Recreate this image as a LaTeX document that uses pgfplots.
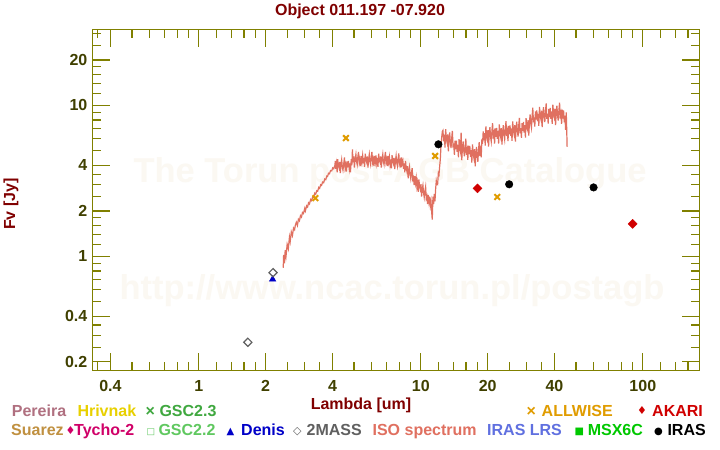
\documentclass[border=0pt]{standalone}
\usepackage{fontspec}
\setmainfont{Liberation Sans}
\newfontfamily\sym{DejaVu Sans}
\usepackage{pgfplots}
\pgfplotsset{compat=1.18}
\definecolor{axolive}{RGB}{128,128,0}
\definecolor{ticktext}{RGB}{64,64,0}
\definecolor{darkred}{RGB}{128,0,0}
\definecolor{wm}{RGB}{251,248,242}
\definecolor{isocol}{RGB}{224,112,96}
\definecolor{wisecol}{RGB}{224,156,0}
\definecolor{akaricol}{RGB}{208,0,0}
\definecolor{denisblue}{RGB}{0,0,200}
\definecolor{grey2}{RGB}{96,96,96}
\definecolor{pereira}{RGB}{176,112,128}
\definecolor{hrivnak}{RGB}{232,208,0}
\definecolor{gsctri}{RGB}{64,168,64}
\definecolor{suarez}{RGB}{192,144,64}
\definecolor{tycho}{RGB}{208,0,104}
\definecolor{gscdue}{RGB}{96,200,96}
\definecolor{iraslrs}{RGB}{96,112,224}
\definecolor{msx}{RGB}{0,200,0}
\newcommand{\lf}{\fontsize{16bp}{19bp}\selectfont\bfseries}
\newcommand{\mf}{\fontsize{11bp}{12bp}\selectfont\sym}
\begin{document}
\begin{tikzpicture}
\useasboundingbox (0bp,0bp) rectangle (720bp,450bp);
\fill[white] (0bp,0bp) rectangle (720bp,450bp);
\node[anchor=base, text=wm, font=\fontsize{34.5bp}{40bp}\selectfont\bfseries, inner sep=0pt] at (390bp,267.4bp) {The Torun post-AGB Catalogue};
\node[anchor=base, text=wm, font=\fontsize{34.5bp}{40bp}\selectfont\bfseries, inner sep=0pt] at (392bp,150bp) {http://www.ncac.torun.pl/postagb};
\begin{axis}[
  at={(92.5bp,79.3bp)}, anchor=south west,
  scale only axis, width=607bp, height=341.4bp,
  xmode=log, ymode=log,
  xmin=0.332, xmax=180, ymin=0.1747, ymax=31.9,
  axis line style={draw=axolive, line width=1.3bp},
  tick style={draw=axolive, line width=1.3bp},
  tick align=inside,
  major tick length=18bp, minor tick length=9bp,
  xtick={0.4,1,2,4,10,20,40,100},
  xticklabels={0.4,1,2,4,10,20,40,100},
  minor xtick={0.35,0.5,0.6,0.7,0.8,0.9,1.2,1.4,1.6,1.8,2.5,3,3.5,5,6,7,8,9,12,14,16,18,25,30,35,50,60,70,80,90,120,140,160},
  ytick={0.2,0.4,1,2,4,10,20},
  yticklabels={0.2,0.4,1,2,4,10,20},
  minor ytick={0.25,0.3,0.35,0.5,0.6,0.7,0.8,0.9,1.2,1.4,1.6,1.8,2.5,3,3.5,5,6,7,8,9,12,14,16,18,25,30},
  tick label style={font=\lf, text=ticktext},
  xticklabel style={anchor=north, inner sep=0pt, yshift=-9.3bp},
  yticklabel style={anchor=east, inner sep=0pt, xshift=-5bp},
]
\addplot[color=isocol, line width=1.2bp, mark=none] coordinates {
(2.40,0.84)(2.41,1.02)(2.43,0.90)(2.45,1.10)(2.47,1.00)(2.50,1.20)(2.53,1.12)(2.56,1.34)(2.58,1.25)(2.61,1.45)(2.64,1.37)(2.67,1.54)(2.70,1.50)(2.72,1.60)(2.75,1.68)(2.78,1.60)(2.81,1.76)(2.84,1.72)(2.87,1.86)(2.90,1.82)(2.93,1.95)(2.96,1.92)(3.00,2.08)(3.02,2.00)(3.06,2.16)(3.09,2.12)(3.12,2.26)(3.15,2.22)(3.19,2.38)(3.22,2.34)(3.26,2.48)(3.29,2.46)(3.33,2.62)(3.36,2.58)(3.40,2.72)(3.43,2.70)(3.47,2.86)(3.50,2.82)(3.54,2.98)(3.57,2.95)(3.61,3.10)(3.65,3.07)(3.69,3.25)(3.73,3.22)(3.77,3.40)(3.80,3.38)(3.84,3.55)(3.88,3.52)(3.92,3.70)(3.97,3.68)(4.01,3.85)(4.05,3.80)(4.10,4.0)
(4.12,4.28)(4.14,3.80)(4.17,4.12)(4.20,3.60)(4.22,4.40)(4.25,4.00)(4.28,3.86)(4.31,4.22)(4.34,3.56)(4.37,4.06)(4.40,4.36)(4.43,3.92)(4.46,3.72)(4.50,4.16)(4.53,4.52)(4.56,3.84)(4.59,4.03)(4.62,3.64)(4.66,4.25)(4.69,3.88)(4.72,4.28)(4.76,3.80)(4.79,4.12)(4.82,3.60)(4.86,4.40)(4.89,4.00)
(4.92,5.10)(4.95,4.20)(4.99,4.59)(5.02,3.87)(5.06,4.41)(5.10,4.74)(5.13,4.26)(5.17,4.05)(5.20,4.52)(5.24,4.92)(5.28,4.18)(5.31,4.38)(5.35,3.96)(5.39,4.62)(5.43,4.22)(5.47,4.65)(5.51,4.13)(5.54,4.48)(5.58,3.92)(5.62,4.79)(5.66,4.35)(5.70,4.20)(5.74,4.59)(5.78,3.87)(5.82,4.41)(5.86,4.74)(5.90,4.26)(5.94,4.05)(5.98,4.52)(6.02,4.92)(6.07,4.18)(6.11,4.38)(6.15,3.96)(6.19,4.62)(6.24,4.22)(6.28,4.65)(6.33,4.13)(6.37,4.48)(6.41,3.92)(6.46,4.79)(6.50,4.35)(6.55,4.20)(6.60,4.59)(6.64,3.87)(6.69,4.41)(6.74,4.74)(6.78,4.26)(6.83,4.05)(6.88,4.52)(6.93,4.92)(6.97,4.18)(7.02,4.38)(7.07,3.96)(7.12,4.62)(7.17,4.22)
(7.22,4.55)(7.27,4.04)(7.32,4.38)(7.37,3.83)(7.42,4.68)(7.48,4.25)(7.53,4.10)(7.58,4.49)(7.63,3.78)(7.69,4.31)(7.74,4.63)(7.79,4.17)(7.85,3.95)(7.90,4.42)(7.96,4.80)(8.01,4.08)(8.07,4.28)(8.13,3.87)(8.18,4.52)(8.24,4.12)(8.30,4.30)(8.36,3.80)(8.41,4.12)(8.47,3.60)
(8.53,4.29)(8.59,3.85)(8.65,3.67)(8.71,3.96)(8.77,3.29)(8.83,3.70)(8.89,3.92)(8.95,3.48)(9.01,3.26)(9.08,3.59)(9.14,3.84)(9.20,3.22)(9.27,3.32)(9.33,2.96)(9.40,3.40)(9.46,3.06)(9.53,3.32)(9.60,2.90)(9.66,3.09)(9.73,2.67)(9.80,3.23)(9.87,2.90)(9.94,2.77)(10.01,3.00)(10.08,2.49)(10.15,2.80)(10.22,2.96)(10.29,2.63)(10.36,2.46)(10.43,2.70)(10.51,2.89)(10.58,2.42)(10.65,2.50)(10.73,2.22)(10.80,2.55)(10.88,2.29)(10.95,2.48)(11.03,2.17)(11.11,2.32)(11.18,2.00)(11.26,1.75)(11.34,2.48)(11.42,2.22)(11.50,2.59)(11.58,2.31)(11.66,2.79)(11.74,3.16)(11.82,2.99)(11.90,2.98)(11.99,3.54)(12.07,3.46)(12.15,3.90)(12.24,4.40)(12.32,5.30)(12.41,6.10)(12.50,6.70)
(12.58,6.82)(12.67,5.77)(12.76,6.40)(12.85,5.25)(12.94,6.96)(13.03,6.00)(13.12,5.70)(13.21,6.43)(13.31,4.96)(13.40,6.02)(13.49,6.61)(13.59,5.63)(13.68,5.22)(13.78,6.10)(13.87,6.78)(13.97,5.36)(14.07,5.45)(14.17,4.70)(14.27,5.83)(14.37,5.14)(14.47,5.83)(14.57,4.93)(14.67,5.46)(14.77,4.52)(14.87,5.98)(14.98,5.20)(15.08,4.94)(15.19,6.60)(15.29,4.33)(15.40,5.25)(15.51,5.76)(15.62,4.95)(15.72,4.59)(15.84,5.35)(15.95,6.01)(16.05,4.70)(16.17,5.05)(16.28,4.35)(16.39,5.40)(16.51,4.75)(16.62,5.39)(16.74,4.56)(16.86,5.04)(16.97,4.17)(17.09,5.52)(17.21,4.80)(17.33,4.51)(17.45,5.13)(17.58,3.95)(17.70,4.79)(17.82,5.31)(17.95,4.56)(18.07,4.23)(18.19,5.04)(18.32,5.71)(18.45,4.61)(18.58,5.05)(18.71,4.52)(18.84,6.00)(18.97,5.57)(19.10,6.71)(19.24,5.86)
(19.37,6.55)(19.51,5.42)(19.64,7.25)(19.77,6.30)(19.91,5.99)(20.05,6.86)(20.19,5.33)(20.33,6.48)(20.47,7.18)(20.62,6.16)(20.76,5.76)(20.91,6.78)(21.05,7.62)(21.20,6.02)(21.35,6.46)(21.49,5.57)(21.65,7.03)(21.80,6.19)(21.95,7.10)(22.10,6.00)(22.26,6.76)(22.41,5.59)(22.57,7.48)(22.73,6.50)(22.88,6.18)(23.04,7.07)(23.20,5.50)(23.36,6.68)(23.53,7.40)(23.69,6.40)(23.86,5.94)(24.03,7.00)(24.19,7.85)(24.36,6.25)(24.53,6.72)(24.70,5.79)(24.87,7.30)(25.05,6.43)(25.22,7.37)(25.40,6.28)(25.58,7.02)(25.75,5.81)(25.93,7.82)(26.12,6.80)(26.30,6.46)(26.48,7.40)(26.67,5.75)(26.85,6.99)(27.04,7.80)(27.23,6.69)(27.42,6.21)(27.61,7.37)(27.80,8.27)(28.00,6.53)(28.19,7.07)(28.39,6.09)(28.59,7.63)(28.78,6.77)(28.99,7.76)(29.19,6.60)(29.39,7.38)(29.60,6.11)(29.80,8.22)(30.01,7.20)
(30.22,6.94)(30.43,7.99)(30.64,6.30)(30.86,7.75)(31.07,8.70)(31.28,7.57)(31.50,7.11)(31.72,8.48)(31.94,9.64)(32.17,7.71)(32.39,8.33)(32.61,7.22)(32.84,9.10)(33.07,8.06)(33.30,9.24)(33.53,7.86)(33.77,8.79)(34.00,7.31)(34.24,9.78)(34.48,8.50)(34.72,8.12)(34.96,9.23)(35.20,7.18)(35.45,8.77)(35.70,9.72)(35.94,8.34)(36.19,7.74)(36.45,9.17)(36.70,10.29)(36.96,8.13)(37.22,8.79)(37.48,7.57)(37.73,9.48)(38.00,8.35)(38.26,9.63)(38.53,8.14)(38.80,9.10)(39.07,7.53)(39.34,10.12)(39.62,8.80)(39.89,8.36)(40.17,9.50)(40.45,7.39)(40.74,8.98)(41.01,9.94)(41.30,8.54)(41.59,7.92)(41.88,9.28)(42.17,10.41)(42.47,8.18)(42.76,8.79)(43.06,7.53)(43.36,9.37)(43.66,8.16)(43.96,9.24)(44.27,7.72)(44.58,8.53)(44.89,6.88)(45.20,8.97)(45.40,7.0)(45.6,5.3)
};
\addplot[only marks, mark=x, mark size=4bp, mark options={draw=wisecol, line width=2bp}] coordinates {(3.35,2.43)(4.6,6.07)(11.6,4.62)(22.1,2.47)};
\addplot[only marks, mark=square*, mark size=3.2bp, mark options={draw=akaricol, fill=akaricol, rotate=45}] coordinates {(18,2.82)(90,1.64)};
\addplot[only marks, mark=*, mark size=3.8bp, mark options={draw=black, fill=black}] coordinates {(12,5.52)(25,3.0)(60,2.86)};
\addplot[only marks, mark=triangle*, mark size=3.8bp, mark options={draw=denisblue, fill=denisblue}] coordinates {(2.15,0.704)};
\addplot[only marks, mark=square, mark size=2.9bp, mark options={draw=grey2, fill=white, line width=1.2bp, rotate=45}] coordinates {(1.662,0.2695)(2.159,0.779)};
\end{axis}
% title and axis labels
\node[anchor=base, inner sep=0pt, text=darkred, font=\lf] at (360bp,434.4bp) {Object 011.197 -07.920};
\node[anchor=base, inner sep=0pt, text=darkred, font=\lf] at (361bp,40.3bp) {Lambda [um]};
\node[anchor=base, inner sep=0pt, text=darkred, font=\lf, rotate=90] at (15bp,246bp) {Fv [Jy]};
% legend row 1
\node[anchor=base west, inner sep=0pt, text=pereira, font=\lf] at (11.7bp,33.7bp) {Pereira};
\node[anchor=base west, inner sep=0pt, text=hrivnak, font=\lf] at (77.3bp,33.7bp) {Hrivnak};
\node[anchor=base west, inner sep=0pt, text=gsctri, font=\lf] at (145.5bp,33.7bp) {×};
\node[anchor=base west, inner sep=0pt, text=gsctri, font=\lf] at (159.3bp,33.7bp) {GSC2.3};
\node[anchor=base west, inner sep=0pt, text=wisecol, font=\lf] at (526.4bp,33.7bp) {×};
\node[anchor=base west, inner sep=0pt, text=wisecol, font=\lf] at (541.5bp,33.7bp) {ALLWISE};
\node[anchor=base west, inner sep=0pt, text=akaricol, font=\mf] at (637bp,35.2bp) {♦};
\node[anchor=base west, inner sep=0pt, text=akaricol, font=\lf] at (652bp,33.7bp) {AKARI};
% legend row 2
\node[anchor=base west, inner sep=0pt, text=suarez, font=\lf] at (11bp,14.3bp) {Suarez};
\node[anchor=base west, inner sep=0pt, text=tycho, font=\mf] at (65.3bp,15.8bp) {♦};
\node[anchor=base west, inner sep=0pt, text=tycho, font=\lf] at (74bp,14.3bp) {Tycho-2};
\node[anchor=base west, inner sep=0pt, text=gscdue, font=\fontsize{9bp}{10bp}\selectfont\sym\bfseries] at (146.5bp,16bp) {□};
\node[anchor=base west, inner sep=0pt, text=gscdue, font=\lf] at (158.3bp,14.3bp) {GSC2.2};
\node[anchor=base west, inner sep=0pt, text=denisblue, font=\fontsize{10bp}{11bp}\selectfont\sym] at (226.3bp,15.8bp) {▲};
\node[anchor=base west, inner sep=0pt, text=denisblue, font=\lf] at (241bp,14.3bp) {Denis};
\node[anchor=base west, inner sep=0pt, text=grey2, font=\mf] at (292.8bp,15.8bp) {◇};
\node[anchor=base west, inner sep=0pt, text=grey2, font=\lf] at (306.5bp,14.3bp) {2MASS};
\node[anchor=base west, inner sep=0pt, text=isocol, font=\lf] at (372.4bp,14.3bp) {ISO spectrum};
\node[anchor=base west, inner sep=0pt, text=iraslrs, font=\lf] at (487bp,14.3bp) {IRAS LRS};
\node[anchor=base west, inner sep=0pt, text=msx, font=\fontsize{10bp}{11bp}\selectfont\sym] at (574.5bp,15.8bp) {■};
\node[anchor=base west, inner sep=0pt, text=msx, font=\lf] at (587.6bp,14.3bp) {MSX6C};
\node[anchor=base west, inner sep=0pt, text=black, font=\fontsize{10bp}{11bp}\selectfont\sym] at (654bp,15.8bp) {●};
\node[anchor=base west, inner sep=0pt, text=black, font=\lf] at (667.3bp,14.3bp) {IRAS};
\end{tikzpicture}
\end{document}
